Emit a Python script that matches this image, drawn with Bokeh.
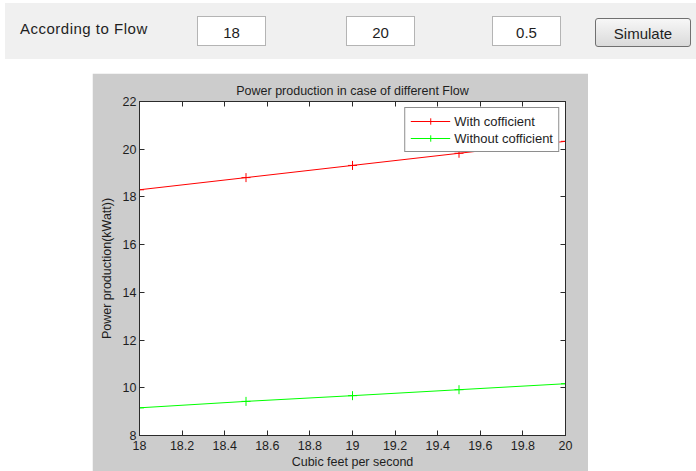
from bokeh.plotting import figure
from bokeh.models import Range1d, FixedTicker, LinearAxis, Div, Spacer
from bokeh.layouts import column, row
from bokeh.embed import file_html
from bokeh.resources import INLINE

# ---- data ----
flow = [18, 18.5, 19, 19.5, 20]
with_coef = [18.30, 18.81, 19.32, 19.83, 20.33]
without_coef = [9.16, 9.43, 9.67, 9.92, 10.17]
x_ticks = [18, 18.2, 18.4, 18.6, 18.8, 19, 19.2, 19.4, 19.6, 19.8, 20]
x_tick_labels = ["18", "18.2", "18.4", "18.6", "18.8", "19", "19.2", "19.4", "19.6", "19.8", "20"]
y_ticks = [8, 10, 12, 14, 16, 18, 20, 22]
y_tick_labels = ["8", "10", "12", "14", "16", "18", "20", "22"]
input_values = ["18", "20", "0.5"]
panel_label = "According to Flow"
button_label = "Simulate"
series_names = ["With cofficient", "Without cofficient"]

FONT = "Liberation Sans"
DARK = "#1e1e1e"

# ---- top control panel (HTML) ----
box_lefts = [197, 346, 492]
boxes = "".join(
    f'<div style="position:absolute;left:{l}px;top:16px;width:69px;height:30px;'
    f'border:1px solid #b4b4b4;background:#ffffff;text-align:center;line-height:31px;'
    f'font-size:15px;color:{DARK};">{v}</div>'
    for l, v in zip(box_lefts, input_values)
)
html = (
    f'<div style="position:relative;width:696px;height:73px;background:#ffffff;'
    f'font-family:\'{FONT}\',Arial,sans-serif;">'
    f'<div style="position:absolute;left:5px;top:3px;width:691px;height:56px;background:#f0f0f0;"></div>'
    f'<div style="position:absolute;left:20px;top:20px;font-size:15px;letter-spacing:0.5px;line-height:17px;color:{DARK};white-space:nowrap;">{panel_label}</div>'
    f'{boxes}'
    f'<div style="position:absolute;left:595px;top:18px;width:96px;height:29px;border:1px solid #707070;'
    f'border-radius:3px;background:linear-gradient(#f7f7f7,#dadada);text-align:center;line-height:30px;'
    f'font-size:15px;color:{DARK};">{button_label}</div>'
    f'</div>'
)
top = Div(text=html, width=696, height=73, margin=0)

# ---- chart ----
p = figure(
    width=496, height=398,
    x_range=Range1d(18, 20), y_range=Range1d(8, 22),
    output_backend="svg", toolbar_location=None,
    border_fill_color="#cccccc", background_fill_color="#ffffff",
    min_border_left=47, min_border_right=23, min_border_top=28, min_border_bottom=35,
    title="Power production in case of different Flow",
)
p.grid.visible = False
p.outline_line_color = "#2b2b2b"
p.title.align = "center"
p.title.vertical_align = "middle"
p.title.text_font = FONT
p.title.text_font_size = "12.5px"
p.title.text_font_style = "normal"
p.title.text_color = DARK
p.title.standoff = 6

def style_axis(ax, show_labels):
    ax.axis_line_color = "#2b2b2b"
    ax.major_tick_line_color = "#2b2b2b"
    ax.major_tick_in = 5
    ax.major_tick_out = 0
    ax.minor_tick_line_color = None
    ax.major_label_text_font = FONT
    ax.major_label_text_font_size = "12.5px"
    ax.axis_label_text_font = FONT
    ax.axis_label_text_font_size = "12.5px"
    ax.axis_label_text_font_style = "normal"
    ax.axis_label_text_color = DARK
    if show_labels:
        ax.major_label_text_color = DARK
    else:
        ax.major_label_text_color = None
        ax.major_label_standoff = 0

p.xaxis.ticker = FixedTicker(ticks=x_ticks)
p.yaxis.ticker = FixedTicker(ticks=y_ticks)
p.xaxis.major_label_overrides = dict(zip(x_ticks, x_tick_labels))
p.yaxis.major_label_overrides = dict(zip(y_ticks, y_tick_labels))
p.xaxis.axis_label = "Cubic feet per second"
p.yaxis.axis_label = "Power production(kWatt))"
style_axis(p.xaxis[0], True)
style_axis(p.yaxis[0], True)
p.xaxis.major_label_standoff = 5
p.xaxis.axis_label_standoff = 2
p.yaxis.major_label_standoff = 3
p.yaxis.axis_label_standoff = 6

ax_top = LinearAxis(ticker=FixedTicker(ticks=x_ticks))
ax_right = LinearAxis(ticker=FixedTicker(ticks=y_ticks))
style_axis(ax_top, False)
style_axis(ax_right, False)
p.add_layout(ax_top, "above")
p.add_layout(ax_right, "right")

colors = ["#ff0000", "#00ff00"]
for ys, c, name in zip([with_coef, without_coef], colors, series_names):
    p.line(flow, ys, line_color=c, line_width=1, legend_label=name)
    p.scatter(flow, ys, marker="cross", size=9, line_color=c, line_width=1, legend_label=name)

lg = p.legend[0]
lg.location = "top_right"
lg.margin = 6
lg.padding = 5
lg.spacing = 1
lg.label_height = 16
lg.glyph_height = 16
lg.glyph_width = 40
lg.label_standoff = 4
lg.label_text_font = FONT
lg.label_text_font_size = "13px"
lg.label_text_color = DARK
lg.border_line_color = "#1e1e1e"
lg.border_line_width = 1
lg.background_fill_color = "#ffffff"
lg.background_fill_alpha = 1.0

layout = column(top, row(Spacer(width=92, height=398, margin=0), p, spacing=0), spacing=0)

open("out.html", "w").write(file_html(layout, INLINE))
